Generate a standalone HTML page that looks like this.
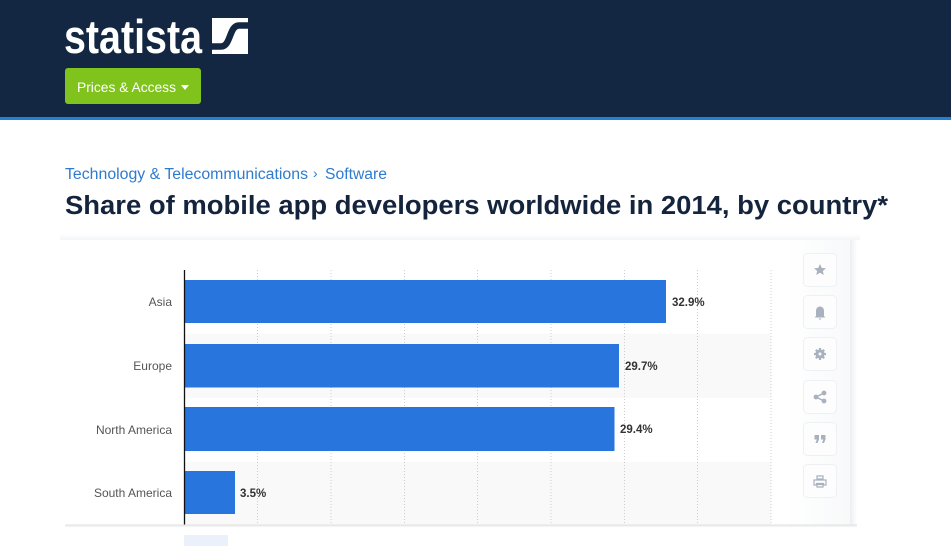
<!DOCTYPE html>
<html><head><meta charset="utf-8"><style>
html,body{margin:0;padding:0;background:#fff;width:951px;height:546px;overflow:hidden}
svg{display:block}
text{font-family:"Liberation Sans",sans-serif}
</style></head><body>
<svg width="951" height="546" viewBox="0 0 951 546" xmlns="http://www.w3.org/2000/svg">
<defs>
<linearGradient id="rs" x1="0" x2="1" y1="0" y2="0"><stop offset="0" stop-color="#eceef2"/><stop offset="1" stop-color="#ffffff"/></linearGradient>
<linearGradient id="ts" x1="0" x2="0" y1="0" y2="1"><stop offset="0" stop-color="#ffffff"/><stop offset="1" stop-color="#f4f5f7"/></linearGradient>
<linearGradient id="bs" x1="0" x2="0" y1="0" y2="1"><stop offset="0" stop-color="#dedede"/><stop offset="1" stop-color="#ffffff"/></linearGradient>
<linearGradient id="sb" x1="0" x2="1" y1="0" y2="0"><stop offset="0" stop-color="#ffffff"/><stop offset="1" stop-color="#f8f9fa"/></linearGradient>
</defs>
<!-- header -->
<rect x="0" y="0" width="951" height="117" fill="#132742"/>
<rect x="0" y="117" width="951" height="3" fill="#1f82d8"/>
<text x="64" y="53" font-size="47" font-weight="bold" fill="#fff" textLength="138" lengthAdjust="spacingAndGlyphs">statista</text>
<rect x="212" y="18" width="36" height="36" fill="#fff"/>
<path d="M211,46.5 L221,46.5 C231,46.5 229,25.5 239,25.5 L249,25.5" fill="none" stroke="#132742" stroke-width="6.5"/>
<rect x="65" y="68" width="136" height="36" rx="3" fill="#7fc31c"/>
<text x="77" y="92" font-size="14" fill="#fff" textLength="99" lengthAdjust="spacingAndGlyphs">Prices &amp; Access</text>
<path d="M181,85 L189,85 L185,90 Z" fill="#fff"/>
<!-- breadcrumb & title -->
<text x="65" y="179" font-size="15.5" fill="#2f7bcf" textLength="243" lengthAdjust="spacingAndGlyphs">Technology &amp; Telecommunications</text>
<text x="313" y="178" font-size="14" fill="#2f7bcf">›</text>
<text x="325" y="179" font-size="15.5" fill="#2f7bcf" textLength="62" lengthAdjust="spacingAndGlyphs">Software</text>
<text x="65" y="214" font-size="25.5" font-weight="bold" fill="#14243d" textLength="823" lengthAdjust="spacingAndGlyphs">Share of mobile app developers worldwide in 2014, by country*</text>
<!-- card shadow -->
<rect x="60" y="234" width="800" height="6" fill="url(#ts)"/>
<rect x="850" y="240" width="7" height="290" fill="url(#rs)"/>
<rect x="65" y="240" width="785" height="290" fill="#fff"/>
<rect x="785" y="240" width="65" height="290" fill="url(#sb)"/>
<!-- row bands -->
<rect x="185" y="334" width="586" height="64" fill="#f9f9f9"/>
<rect x="185" y="462" width="586" height="64" fill="#f9f9f9"/>
<!-- gridlines -->
<g stroke="#cdcdcd" stroke-width="1" stroke-dasharray="1,2">
<line x1="257.5" y1="270" x2="257.5" y2="526"/>
<line x1="331" y1="270" x2="331" y2="526"/>
<line x1="404.5" y1="270" x2="404.5" y2="526"/>
<line x1="477.5" y1="270" x2="477.5" y2="526"/>
<line x1="551" y1="270" x2="551" y2="526"/>
<line x1="624.5" y1="270" x2="624.5" y2="526"/>
<line x1="697.5" y1="270" x2="697.5" y2="526"/>
<line x1="771" y1="270" x2="771" y2="526"/>
</g>
<!-- bars -->
<g fill="#2876dd">
<rect x="185" y="280" width="481" height="43"/>
<rect x="185" y="344" width="434" height="43.5"/>
<rect x="185" y="407" width="429.5" height="44"/>
<rect x="185" y="471" width="50" height="43"/>
</g>
<line x1="184.5" y1="270" x2="184.5" y2="526" stroke="#111" stroke-width="1.3"/>
<!-- category labels -->
<g font-size="12" fill="#555" text-anchor="end">
<text x="172" y="306">Asia</text>
<text x="172" y="370">Europe</text>
<text x="172" y="434">North America</text>
<text x="172" y="497">South America</text>
</g>
<!-- value labels -->
<g font-size="11.5" font-weight="bold" fill="#333">
<text x="672" y="306">32.9%</text>
<text x="625" y="370">29.7%</text>
<text x="620" y="433">29.4%</text>
<text x="240" y="497">3.5%</text>
</g>
<!-- sidebar buttons -->
<g fill="#fdfdfe" stroke="#eef0f3" stroke-width="1">
<rect x="803.5" y="253.5" width="33" height="33" rx="4"/>
<rect x="803.5" y="295.5" width="33" height="33" rx="4"/>
<rect x="803.5" y="337.5" width="33" height="33" rx="4"/>
<rect x="803.5" y="380.5" width="33" height="33" rx="4"/>
<rect x="803.5" y="422.5" width="33" height="33" rx="4"/>
<rect x="803.5" y="464.5" width="33" height="33" rx="4"/>
</g>
<g fill="#a9b1be">
<path d="M820,264 L821.8,268 L826,268.3 L822.8,271 L823.8,275 L820,272.8 L816.2,275 L817.2,271 L814,268.3 L818.2,268 Z"/>
<path d="M816,316 L816,311 C816,308 818,306.5 820,306.5 C822,306.5 824,308 824,311 L824,316 L825.5,317.5 L814.5,317.5 Z M818.5,318.5 L821.5,318.5 L820,320 Z"/>
<circle cx="820" cy="354" r="4.5"/>
<g stroke="#a9b1be" stroke-width="2.2"><line x1="820" y1="348" x2="820" y2="360"/><line x1="814" y1="354" x2="826" y2="354"/><line x1="815.8" y1="349.8" x2="824.2" y2="358.2"/><line x1="815.8" y1="358.2" x2="824.2" y2="349.8"/></g>
<circle cx="820" cy="354" r="1.5" fill="#fdfdfe"/>
<circle cx="816" cy="397" r="2.4"/><circle cx="824" cy="393" r="2.4"/><circle cx="824" cy="401" r="2.4"/>
<g stroke="#a9b1be" stroke-width="1.5"><line x1="816" y1="397" x2="824" y2="393"/><line x1="816" y1="397" x2="824" y2="401"/></g>
<path d="M814.5,435 L819,435 L819,439.5 L817.5,443 L815.5,443 L816.8,439.5 L814.5,439.5 Z M821,435 L825.5,435 L825.5,439.5 L824,443 L822,443 L823.3,439.5 L821,439.5 Z"/>
<path d="M817,476 L823,476 L823,479 L817,479 Z M814,480 L826,480 L826,485 L823.5,485 L823.5,483.5 L816.5,483.5 L816.5,485 L814,485 Z M817,484.5 L823,484.5 L823,487 L817,487 Z" fill="none" stroke="#a9b1be" stroke-width="1.2"/>
</g>
<!-- bottom overlay -->
<rect x="0" y="526" width="951" height="20" fill="#fff" fill-opacity="0.93"/>
<rect x="65" y="524.5" width="792" height="3" fill="url(#bs)"/>
<rect x="184" y="535" width="44" height="11" fill="#eaf1fb"/>
</svg>
</body></html>
